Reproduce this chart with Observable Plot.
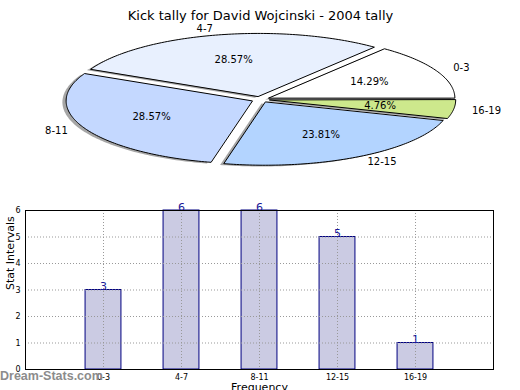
<!DOCTYPE html>
<html><head><meta charset="utf-8">
<script src="https://cdn.jsdelivr.net/npm/d3@7"></script>
<script src="https://cdn.jsdelivr.net/npm/@observablehq/plot@0.6"></script>
<style>
body{margin:0;background:#fff;}
#wrap{position:relative;width:520px;height:390px;font-family:"DejaVu Sans",sans-serif;overflow:hidden;background:#fff;}
#wrap > *{position:absolute;}
#wm{left:0;top:369px;font:bold 12.5px "Liberation Sans",sans-serif;color:#8c8c8c;white-space:nowrap;}
</style></head><body><div id="wrap"></div>
<script>
// ---- data ----
const title = "Kick tally for David Wojcinski - 2004 tally";
const categories = ["0-3", "4-7", "8-11", "12-15", "16-19"];
const tally = [3, 6, 6, 5, 1];
const sliceColors = ["#ffffff", "#e8f0fe", "#c4d8ff", "#b3d4ff", "#cde88c"];
const explode = [0.05, 0.05, 0.05, 0.05, 0.05];
const yTicks = [0, 1, 2, 3, 4, 5, 6];
const yLabel = "Stat Intervals";
const xLabel = "Frequency";
const watermark = "Dream-Stats.com";

const wrap = document.getElementById("wrap");

// ---- pie geometry (matplotlib style: start at 0deg, counterclockwise) ----
const total = d3.sum(tally);
let cum = 0;
const slices = categories.map((c, i) => {
  const t0 = cum / total * 2 * Math.PI;
  cum += tally[i];
  const t1 = cum / total * 2 * Math.PI;
  const m = (t0 + t1) / 2;
  const cx = explode[i] * Math.cos(m), cy = explode[i] * Math.sin(m);
  const n = Math.max(4, Math.ceil((t1 - t0) / (Math.PI / 180)));
  const pts = [{x: cx, y: cy}];
  for (let k = 0; k <= n; k++) {
    const a = t0 + (t1 - t0) * k / n;
    pts.push({x: cx + Math.cos(a), y: cy + Math.sin(a)});
  }
  return {
    label: c, color: sliceColors[i], pts,
    shadow: pts.map(p => ({x: p.x - 0.02, y: p.y - 0.02})),
    lx: cx + 1.1 * Math.cos(m), ly: cy + 1.1 * Math.sin(m),
    px: cx + 0.6 * Math.cos(m), py: cy + 0.6 * Math.sin(m),
    pct: (100 * tally[i] / total).toFixed(2) + "%"
  };
});

const pie = Plot.plot({
  width: 520, height: 190,
  marginTop: 0, marginBottom: 0, marginLeft: 0, marginRight: 0,
  x: {type: "linear", domain: [-1, 1], range: [74, 446], axis: null},
  y: {type: "linear", domain: [-1, 1], range: [162, 36], axis: null},
  style: {fontFamily: "DejaVu Sans, sans-serif", background: "transparent"},
  marks: [
    ...slices.map(s => Plot.line(s.shadow, {x: "x", y: "y", fill: "#4d4d4d", fillOpacity: 0.5, stroke: "none", curve: "linear-closed"})),
    ...slices.map(s => Plot.line(s.pts, {x: "x", y: "y", fill: s.color, stroke: "black", strokeWidth: 1, curve: "linear-closed"})),
    Plot.text(slices.filter(s => s.lx >= 0), {x: "lx", y: "ly", text: "label", textAnchor: "start", fontSize: 10, fill: "black"}),
    Plot.text(slices.filter(s => s.lx < 0), {x: "lx", y: "ly", text: "label", textAnchor: "end", fontSize: 10, fill: "black"}),
    Plot.text(slices, {x: "px", y: "py", text: "pct", fontSize: 10, fill: "black"}),
    Plot.text([title], {frameAnchor: "top", dy: 10, text: d => d, fontSize: 13, fill: "black"})
  ]
});
pie.style.left = "0px"; pie.style.top = "0px";
wrap.appendChild(pie);

// ---- bar chart ----
const bars = categories.map((c, i) => ({i, c, v: tally[i]}));
const barHalf = 0.23;
const bar = Plot.plot({
  width: 520, height: 190,
  marginTop: 10, marginBottom: 21, marginLeft: 25, marginRight: 27,
  x: {type: "linear", domain: [-1, 5], axis: null},
  y: {type: "linear", domain: [0, 6], axis: null},
  style: {fontFamily: "DejaVu Sans, sans-serif", background: "transparent"},
  marks: [
    Plot.rectY(bars, {x1: d => d.i - barHalf, x2: d => d.i + barHalf, y1: 0, y2: "v", fill: "#cbcbe3", stroke: "#000080", strokeWidth: 1}),
    Plot.gridY(yTicks.slice(1, -1), {stroke: "#999", strokeOpacity: 1, strokeDasharray: "1,2"}),
    Plot.gridX(d3.range(categories.length), {stroke: "#999", strokeOpacity: 1, strokeDasharray: "1,2"}),
    Plot.text(bars, {x: "i", y: "v", text: d => String(d.v), lineAnchor: "bottom", fontSize: 11, fill: "#1a1a99"}),
    Plot.axisX(d3.range(categories.length), {tickFormat: i => categories[i], tickSize: 0, tickPadding: 5, fontSize: 8, color: "black", label: null}),
    Plot.axisY(yTicks, {tickSize: 0, tickPadding: 5, fontSize: 8, color: "black", label: null}),
    Plot.frame({stroke: "black", strokeWidth: 1}),
    Plot.text([yLabel], {frameAnchor: "left", dx: -15, rotate: -90, text: d => d, fontSize: 11, fill: "black"}),
    Plot.text([xLabel], {frameAnchor: "bottom", dy: 14, lineAnchor: "top", text: d => d, fontSize: 11, fill: "black"})
  ]
});
bar.style.left = "0px"; bar.style.top = "200px";
wrap.appendChild(bar);

const wm = document.createElement("div");
wm.id = "wm"; wm.textContent = watermark;
wrap.appendChild(wm);
</script></body></html>
